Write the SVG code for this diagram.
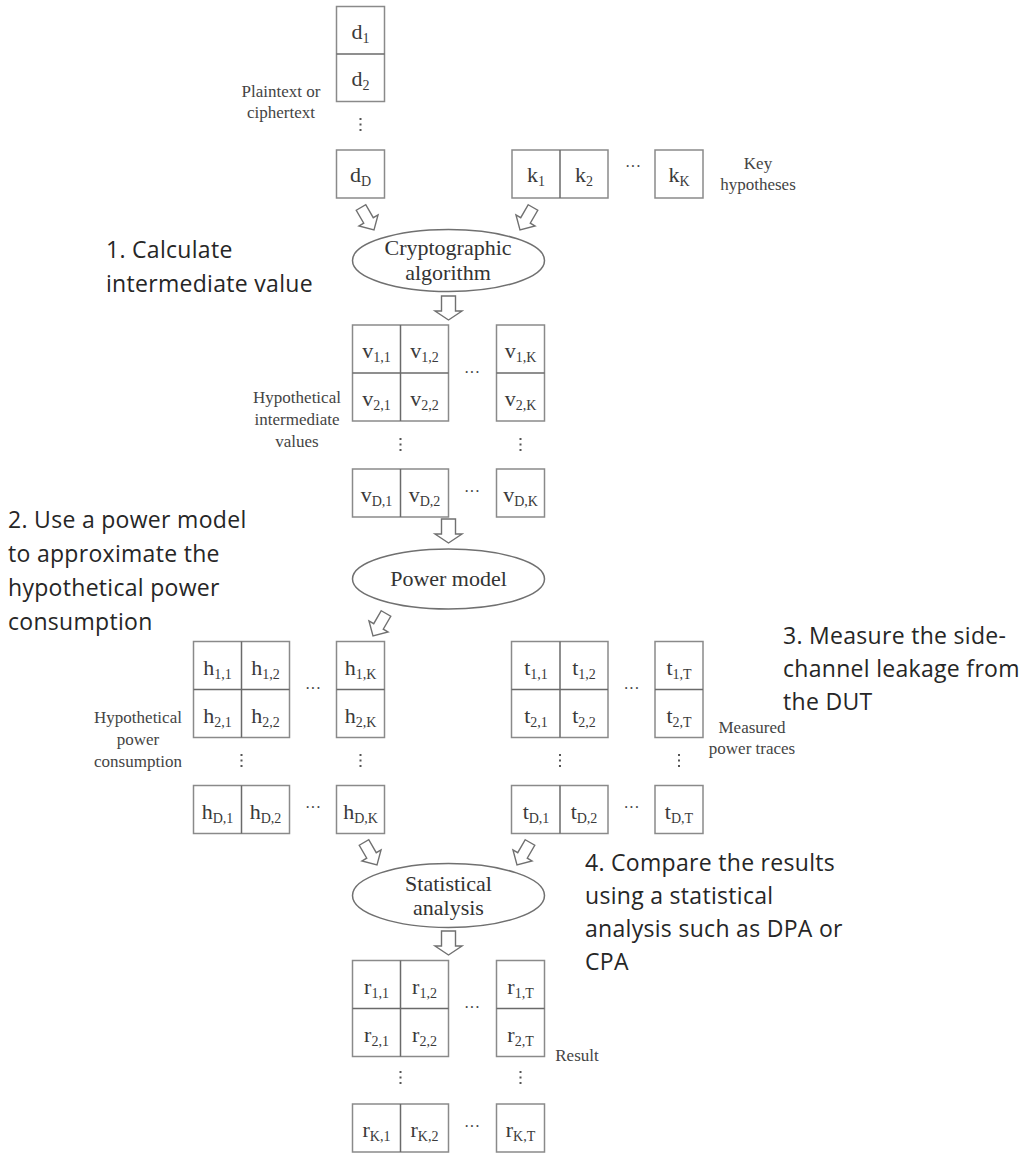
<svg xmlns="http://www.w3.org/2000/svg" width="1021" height="1153" viewBox="0 0 1021 1153">
  <style>
    .cell { fill: #fff; stroke: #8a8a8a; stroke-width: 1.5; }
    .div { stroke: #6a6a6a; stroke-width: 1.5; }
    .ell { fill: #fff; stroke: #707070; stroke-width: 1.5; }
    .val { font-family: "Liberation Serif", serif; font-size: 22px; fill: #3a3a3a; text-anchor: middle; }
    .sub { font-size: 14px; }
    .lbl { font-family: "Liberation Serif", serif; font-size: 17px; fill: #444; text-anchor: middle; }
    .etxt { font-family: "Liberation Serif", serif; font-size: 22px; fill: #333; text-anchor: middle; }
    .note { font-family: "Open Sans", "Noto Sans", sans-serif; font-size: 23px; letter-spacing: 0.3px; fill: #262626; }
    .hdots { font-family: "Liberation Serif", serif; font-size: 16px; fill: #444; text-anchor: middle; }
    .vdots { stroke: #555; stroke-width: 2; stroke-dasharray: 2 3.5; }
    .arr { fill: #fff; stroke: #707070; stroke-width: 1.4; stroke-linejoin: miter; }
  </style>
  <defs>
    <!-- hollow block arrow, tip at origin, pointing down -->
    <path id="blk" d="M -7,-24 L 7,-24 L 7,-9 L 13.5,-9 L 0,0 L -13.5,-9 L -7,-9 Z"/>
    <path id="blkS" d="M -5.5,-26 L 5.5,-26 L 5.5,-11 L 11,-11 L 0,0 L -11,-11 L -5.5,-11 Z"/>
  </defs>

  <!-- Data inputs d -->
  <g id="data">
    <rect class="cell" x="336.5" y="6.5" width="48" height="95"/>
    <line class="div" x1="336.5" y1="54" x2="384.5" y2="54"/>
    <rect class="cell" x="336.5" y="150" width="48" height="48"/>
    <text class="val" x="360.5" y="38.5">d<tspan class="sub" dy="4">1</tspan></text>
    <text class="val" x="360.5" y="86">d<tspan class="sub" dy="4">2</tspan></text>
    <text class="val" x="360.5" y="182">d<tspan class="sub" dy="4">D</tspan></text>
    <line class="vdots" x1="360.5" y1="118" x2="360.5" y2="133"/>
    <text class="lbl" x="281" y="97">Plaintext or</text>
    <text class="lbl" x="281" y="118">ciphertext</text>
  </g>

  <!-- Key hypotheses k -->
  <g id="keys">
    <rect class="cell" x="512" y="150" width="96" height="48"/>
    <line class="div" x1="560" y1="150" x2="560" y2="198"/>
    <rect class="cell" x="655" y="150" width="48" height="48"/>
    <text class="val" x="536" y="182">k<tspan class="sub" dy="4">1</tspan></text>
    <text class="val" x="584" y="182">k<tspan class="sub" dy="4">2</tspan></text>
    <text class="val" x="679" y="182">k<tspan class="sub" dy="4">K</tspan></text>
    <text class="hdots" x="633" y="172">···</text>
    <text class="lbl" x="758" y="169">Key</text>
    <text class="lbl" x="758" y="190">hypotheses</text>
  </g>

  <!-- Cryptographic algorithm -->
  <g id="crypto">
    <ellipse class="ell" cx="448.5" cy="260.5" rx="96" ry="31"/>
    <text class="etxt" x="448" y="255">Cryptographic</text>
    <text class="etxt" x="448" y="280">algorithm</text>
  </g>

  <!-- Hypothetical intermediate values v -->
  <g id="values">
    <rect class="cell" x="352.5" y="325" width="96" height="96"/>
    <line class="div" x1="400.5" y1="325" x2="400.5" y2="421"/>
    <line class="div" x1="352.5" y1="373" x2="448.5" y2="373"/>
    <rect class="cell" x="496.5" y="325" width="48" height="96"/>
    <line class="div" x1="496.5" y1="373" x2="544.5" y2="373"/>
    <rect class="cell" x="352.5" y="469" width="96" height="48"/>
    <line class="div" x1="400.5" y1="469" x2="400.5" y2="517"/>
    <rect class="cell" x="496.5" y="469" width="48" height="48"/>
    <text class="val" x="376.5" y="358">v<tspan class="sub" dy="4">1,1</tspan></text>
    <text class="val" x="424.5" y="358">v<tspan class="sub" dy="4">1,2</tspan></text>
    <text class="val" x="520.5" y="358">v<tspan class="sub" dy="4">1,K</tspan></text>
    <text class="val" x="376.5" y="406">v<tspan class="sub" dy="4">2,1</tspan></text>
    <text class="val" x="424.5" y="406">v<tspan class="sub" dy="4">2,2</tspan></text>
    <text class="val" x="520.5" y="406">v<tspan class="sub" dy="4">2,K</tspan></text>
    <text class="val" x="376.5" y="502">v<tspan class="sub" dy="4">D,1</tspan></text>
    <text class="val" x="424.5" y="502">v<tspan class="sub" dy="4">D,2</tspan></text>
    <text class="val" x="520.5" y="502">v<tspan class="sub" dy="4">D,K</tspan></text>
    <text class="hdots" x="472" y="378">···</text>
    <text class="hdots" x="472" y="497">···</text>
    <line class="vdots" x1="400.5" y1="438" x2="400.5" y2="453"/>
    <line class="vdots" x1="520.5" y1="438" x2="520.5" y2="453"/>
    <text class="lbl" x="297" y="403">Hypothetical</text>
    <text class="lbl" x="297" y="425">intermediate</text>
    <text class="lbl" x="297" y="447">values</text>
  </g>

  <!-- Power model -->
  <g id="power-model">
    <ellipse class="ell" cx="448.5" cy="579" rx="96" ry="30"/>
    <text class="etxt" x="448.5" y="586">Power model</text>
  </g>

  <!-- Hypothetical power consumption h -->
  <g id="hyp-power">
    <rect class="cell" x="193.5" y="641.5" width="96" height="96"/>
    <line class="div" x1="241.5" y1="641.5" x2="241.5" y2="737.5"/>
    <line class="div" x1="193.5" y1="689.5" x2="289.5" y2="689.5"/>
    <rect class="cell" x="336.5" y="641.5" width="48" height="96"/>
    <line class="div" x1="336.5" y1="689.5" x2="384.5" y2="689.5"/>
    <rect class="cell" x="193.5" y="785.5" width="96" height="48"/>
    <line class="div" x1="241.5" y1="785.5" x2="241.5" y2="833.5"/>
    <rect class="cell" x="336.5" y="785.5" width="48" height="48"/>
    <text class="val" x="217.5" y="674.5">h<tspan class="sub" dy="4">1,1</tspan></text>
    <text class="val" x="265.5" y="674.5">h<tspan class="sub" dy="4">1,2</tspan></text>
    <text class="val" x="360.5" y="674.5">h<tspan class="sub" dy="4">1,K</tspan></text>
    <text class="val" x="217.5" y="722.5">h<tspan class="sub" dy="4">2,1</tspan></text>
    <text class="val" x="265.5" y="722.5">h<tspan class="sub" dy="4">2,2</tspan></text>
    <text class="val" x="360.5" y="722.5">h<tspan class="sub" dy="4">2,K</tspan></text>
    <text class="val" x="217.5" y="818.5">h<tspan class="sub" dy="4">D,1</tspan></text>
    <text class="val" x="265.5" y="818.5">h<tspan class="sub" dy="4">D,2</tspan></text>
    <text class="val" x="360.5" y="818.5">h<tspan class="sub" dy="4">D,K</tspan></text>
    <text class="hdots" x="313" y="694">···</text>
    <text class="hdots" x="313" y="813">···</text>
    <line class="vdots" x1="241.5" y1="754" x2="241.5" y2="769"/>
    <line class="vdots" x1="360.5" y1="754" x2="360.5" y2="769"/>
    <text class="lbl" x="138" y="723">Hypothetical</text>
    <text class="lbl" x="138" y="745">power</text>
    <text class="lbl" x="138" y="767">consumption</text>
  </g>

  <!-- Measured power traces t -->
  <g id="traces">
    <rect class="cell" x="511.5" y="641.5" width="96.5" height="96"/>
    <line class="div" x1="560" y1="641.5" x2="560" y2="737.5"/>
    <line class="div" x1="511.5" y1="689.5" x2="608" y2="689.5"/>
    <rect class="cell" x="655" y="641.5" width="48" height="96"/>
    <line class="div" x1="655" y1="689.5" x2="703" y2="689.5"/>
    <rect class="cell" x="511.5" y="785.5" width="96.5" height="48"/>
    <line class="div" x1="560" y1="785.5" x2="560" y2="833.5"/>
    <rect class="cell" x="655" y="785.5" width="48" height="48"/>
    <text class="val" x="536" y="674.5">t<tspan class="sub" dy="4">1,1</tspan></text>
    <text class="val" x="584" y="674.5">t<tspan class="sub" dy="4">1,2</tspan></text>
    <text class="val" x="679" y="674.5">t<tspan class="sub" dy="4">1,T</tspan></text>
    <text class="val" x="536" y="722.5">t<tspan class="sub" dy="4">2,1</tspan></text>
    <text class="val" x="584" y="722.5">t<tspan class="sub" dy="4">2,2</tspan></text>
    <text class="val" x="679" y="722.5">t<tspan class="sub" dy="4">2,T</tspan></text>
    <text class="val" x="536" y="818.5">t<tspan class="sub" dy="4">D,1</tspan></text>
    <text class="val" x="584" y="818.5">t<tspan class="sub" dy="4">D,2</tspan></text>
    <text class="val" x="679" y="818.5">t<tspan class="sub" dy="4">D,T</tspan></text>
    <text class="hdots" x="631.5" y="694">···</text>
    <text class="hdots" x="631.5" y="813">···</text>
    <line class="vdots" x1="560" y1="754" x2="560" y2="769"/>
    <line class="vdots" x1="679" y1="754" x2="679" y2="769"/>
    <text class="lbl" x="752" y="733">Measured</text>
    <text class="lbl" x="752" y="754">power traces</text>
  </g>

  <!-- Statistical analysis -->
  <g id="stats">
    <ellipse class="ell" cx="448.5" cy="895.5" rx="96" ry="32"/>
    <text class="etxt" x="448.5" y="890.5">Statistical</text>
    <text class="etxt" x="448.5" y="915">analysis</text>
  </g>

  <!-- Result r -->
  <g id="result">
    <rect class="cell" x="352.5" y="960.5" width="96" height="96"/>
    <line class="div" x1="400.5" y1="960.5" x2="400.5" y2="1056.5"/>
    <line class="div" x1="352.5" y1="1008.5" x2="448.5" y2="1008.5"/>
    <rect class="cell" x="496.5" y="960.5" width="48" height="96"/>
    <line class="div" x1="496.5" y1="1008.5" x2="544.5" y2="1008.5"/>
    <rect class="cell" x="352.5" y="1104" width="96" height="48"/>
    <line class="div" x1="400.5" y1="1104" x2="400.5" y2="1152"/>
    <rect class="cell" x="496.5" y="1104" width="48" height="48"/>
    <text class="val" x="376.5" y="993.5">r<tspan class="sub" dy="4">1,1</tspan></text>
    <text class="val" x="424.5" y="993.5">r<tspan class="sub" dy="4">1,2</tspan></text>
    <text class="val" x="520.5" y="993.5">r<tspan class="sub" dy="4">1,T</tspan></text>
    <text class="val" x="376.5" y="1041.5">r<tspan class="sub" dy="4">2,1</tspan></text>
    <text class="val" x="424.5" y="1041.5">r<tspan class="sub" dy="4">2,2</tspan></text>
    <text class="val" x="520.5" y="1041.5">r<tspan class="sub" dy="4">2,T</tspan></text>
    <text class="val" x="376.5" y="1137">r<tspan class="sub" dy="4">K,1</tspan></text>
    <text class="val" x="424.5" y="1137">r<tspan class="sub" dy="4">K,2</tspan></text>
    <text class="val" x="520.5" y="1137">r<tspan class="sub" dy="4">K,T</tspan></text>
    <text class="hdots" x="472" y="1013">···</text>
    <text class="hdots" x="472" y="1132">···</text>
    <line class="vdots" x1="400.5" y1="1071" x2="400.5" y2="1086"/>
    <line class="vdots" x1="520.5" y1="1071" x2="520.5" y2="1086"/>
    <text class="lbl" x="577" y="1061">Result</text>
  </g>

  <!-- Step annotations -->
  <g id="notes">
    <text class="note" x="106" y="258">1. Calculate</text>
    <text class="note" x="106" y="292">intermediate value</text>
    <text class="note" x="8" y="528">2. Use a power model</text>
    <text class="note" x="8" y="562">to approximate the</text>
    <text class="note" x="8" y="596">hypothetical power</text>
    <text class="note" x="8" y="630">consumption</text>
    <text class="note" x="783" y="644">3. Measure the side-</text>
    <text class="note" x="783" y="677">channel leakage from</text>
    <text class="note" x="783" y="710">the DUT</text>
    <text class="note" x="585" y="871">4. Compare the results</text>
    <text class="note" x="585" y="904">using a statistical</text>
    <text class="note" x="585" y="937">analysis such as DPA or</text>
    <text class="note" x="585" y="970">CPA</text>
  </g>

  <!-- Connectors: hollow block arrows -->
  <g id="connectors">
    <use href="#blkS" class="arr" transform="translate(374,230) rotate(-30)"/>
    <use href="#blkS" class="arr" transform="translate(520,230) rotate(30)"/>
    <use href="#blk" class="arr" transform="translate(448.5,320)"/>
    <use href="#blk" class="arr" transform="translate(448.5,543)"/>
    <use href="#blkS" class="arr" transform="translate(373,636) rotate(30)"/>
    <use href="#blkS" class="arr" transform="translate(377,865) rotate(-30)"/>
    <use href="#blkS" class="arr" transform="translate(517,865) rotate(30)"/>
    <use href="#blk" class="arr" transform="translate(448.5,955)"/>
  </g>
</svg>
